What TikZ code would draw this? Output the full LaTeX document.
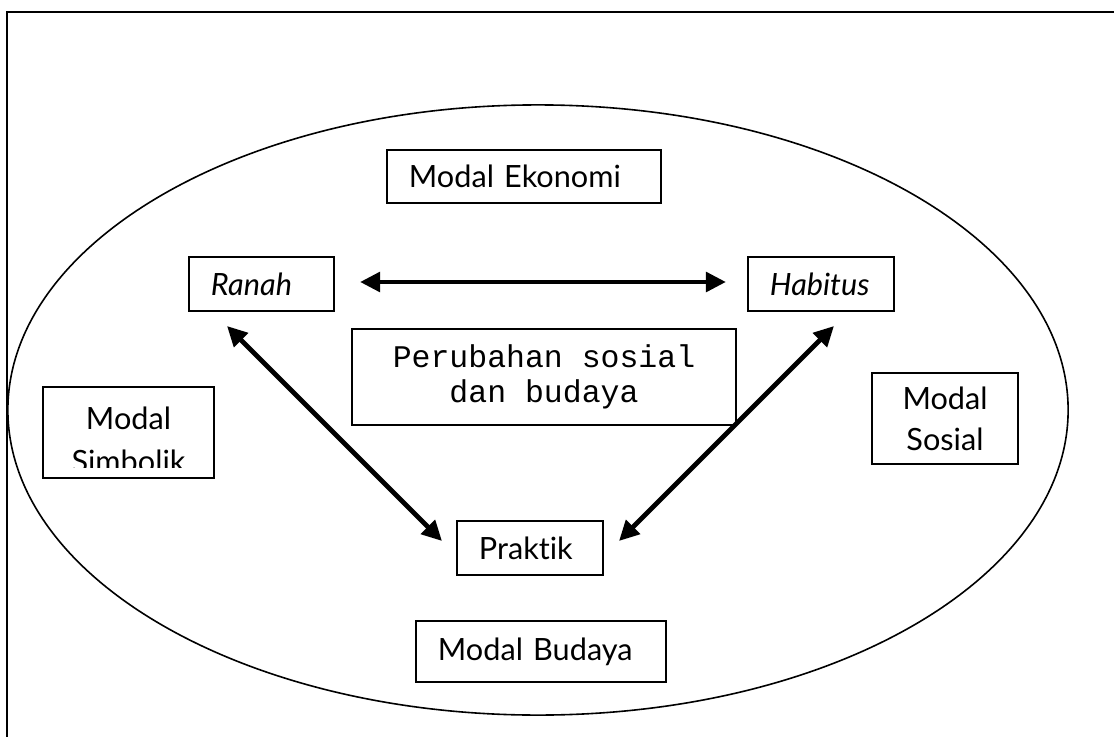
\documentclass[tikz,border=0pt]{standalone}
\usepackage{fontspec}
\setmainfont{Lato}[Ligatures=NoCommon]
\setmonofont{Liberation Mono}
\usetikzlibrary{arrows.meta}

\begin{document}
\begin{tikzpicture}[x=0.025cm,y=-0.025cm]
\tikzstyle{every node} = [font=\fontsize{21.8}{29}\selectfont]
\tikzstyle{lbox} = [draw, line width=.05cm, inner xsep=.55cm, inner ysep=0cm, align=left, minimum height=1.35cm]
\tikzstyle{cbox} = [draw, line width=.05cm, inner sep=0cm, align=center, minimum height=2.275cm]
\tikzstyle{dbl} = [line width=.12cm, {Triangle[length=.5cm,width=.48cm]}-{Triangle[length=.5cm,width=.48cm]}]
\useasboundingbox (0,0) rectangle (1114,737);
\clip (0,0) rectangle (1114,737);
% frame and field
\draw[line width=.05cm] (7,12) rectangle (1200,800);
\draw[line width=.04cm] (538,410) ellipse [x radius=13.25cm, y radius=7.625cm];
% capitals
\node[lbox, text width=5.75cm, minimum height=1.325cm] (ekonomi) at (524,176.5) {Modal Ekonomi};
\node[lbox, text width=5.15cm, minimum height=1.525cm] (budaya) at (541,651.5) {Modal Budaya};
\node[cbox, minimum width=3.65cm] (sosial) at (945,418.5) {Modal\\Sosial};
\node[cbox, minimum width=4.275cm] (simbolik) at (128.5,432.5) {};
\begin{scope}
\clip (43,387) rectangle (214,467);
\node[align=center, font=\fontsize{21.8}{30.5}\selectfont] (simboliktxt) at (128.5,440) {Modal\\Simbolik};
\end{scope}
% triangle
\node[lbox, text width=2.525cm] (ranah) at (261.5,284) {\textit{Ranah}};
\node[lbox, text width=2.55cm] (habitus) at (821,284) {\textit{Habitus}};
\node[lbox, text width=2.55cm] (praktik) at (530,548) {Praktik};
\node[cbox, minimum width=9.6cm, minimum height=2.4cm,
  font=\ttfamily\fontsize{22.4}{24.8}\selectfont] (perubahan) at (544,377) {Perubahan sosial\\dan budaya};
\draw[dbl] ([shift={(25,-2)}]ranah.east) -- ([shift={(-21,-2)}]habitus.west);
\draw[dbl] ([shift={(-34.5,42)}]ranah.center) -- ([shift={(-88,-7)}]praktik.center);
\draw[dbl] ([shift={(13,42)}]habitus.center) -- ([shift={(89,-7)}]praktik.center);
\end{tikzpicture}
\end{document}
